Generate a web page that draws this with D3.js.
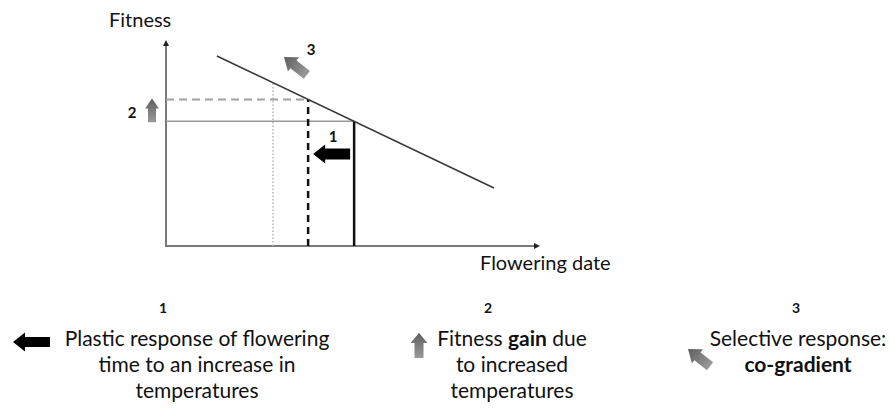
<!DOCTYPE html>
<html>
<head>
<meta charset="utf-8">
<script src="https://cdn.jsdelivr.net/npm/d3@7"></script>
<style>
  html, body { margin: 0; padding: 0; background: #fff; }
  svg { display: block; }
  text { font-family: Lato, "Open Sans", sans-serif; fill: #111; }
</style>
</head>
<body>
<svg id="chart" width="889" height="409"></svg>
<script>
// ---- data (arbitrary 0-100 units) ----
const axisLabels = ["Fitness", "Flowering date"];
const fitnessLineDates = [13.6, 87.7];
const fitnessLineValues = [92.2, 28.2];
const dateNames = ["original", "plastic", "selective"];
const floweringDates = [50.3, 38.0, 28.6];
const fitnessAtDates = [60.5, 71.1, 79.2];
const arrowNumbers = ["1", "2", "3"];
const legendLines = [
  [["Plastic response of flowering"], ["time to an increase in"], ["temperatures"]],
  [["Fitness ", "gain", " due"], ["to increased"], ["temperatures"]],
  [["Selective response:"], ["co-gradient"]]
];
const legendBold = [
  [[false], [false], [false]],
  [[false, true, false], [false], [false]],
  [[false], [true]]
];

const svg = d3.select("#chart");
const defs = svg.append("defs");
const grad = defs.append("linearGradient").attr("id", "grayGrad")
  .attr("x1", 0).attr("y1", 0).attr("x2", 1).attr("y2", 0);
grad.append("stop").attr("offset", "0%").attr("stop-color", "#5e5e5e");
grad.append("stop").attr("offset", "100%").attr("stop-color", "#9a9a9a");

const x = d3.scaleLinear().domain([0, 100]).range([166, 540]);
const y = d3.scaleLinear().domain([0, 100]).range([246, 40]);

// axes
const axisColor = "#7a7a7a";
svg.append("line").attr("x1", x(0)).attr("y1", y(0)).attr("x2", x(0)).attr("y2", y(100) + 4)
  .attr("stroke", axisColor).attr("stroke-width", 2);
svg.append("line").attr("x1", x(0) - 1).attr("y1", y(0)).attr("x2", x(100) - 4).attr("y2", y(0))
  .attr("stroke", axisColor).attr("stroke-width", 2);
svg.append("path")
  .attr("d", `M${x(0)},${y(100)} l-3,6 l6,0 z`).attr("fill", "#222");
svg.append("path")
  .attr("d", `M${x(100)},${y(0)} l-6,-3 l0,6 z`).attr("fill", "#222");

svg.append("text").attr("x", 109).attr("y", 27).attr("font-size", 20).text(axisLabels[0]);
svg.append("text").attr("x", 480).attr("y", 270).attr("font-size", 20).text(axisLabels[1]);

// guide lines
const [dOrig, dPlast, dSel] = floweringDates;
const [fOrig, fPlast, fSel] = fitnessAtDates;

// dotted vertical (selective)
svg.append("line").attr("x1", x(dSel)).attr("x2", x(dSel)).attr("y1", y(0)).attr("y2", y(fSel))
  .attr("stroke", "#b5b5b5").attr("stroke-width", 1.5).attr("stroke-dasharray", "1.5,2");
// solid horizontal (original)
svg.append("line").attr("x1", x(0)).attr("x2", x(dOrig)).attr("y1", y(fOrig)).attr("y2", y(fOrig))
  .attr("stroke", "#9a9a9a").attr("stroke-width", 1.5);
// dashed horizontal (plastic)
svg.append("line").attr("x1", x(0)).attr("x2", x(dPlast)).attr("y1", y(fPlast)).attr("y2", y(fPlast))
  .attr("stroke", "#a0a0a0").attr("stroke-width", 2).attr("stroke-dasharray", "8,5");
// dashed vertical (plastic)
svg.append("line").attr("x1", x(dPlast)).attr("x2", x(dPlast)).attr("y1", y(0)).attr("y2", y(fPlast))
  .attr("stroke", "#111").attr("stroke-width", 2.5).attr("stroke-dasharray", "7,5");
// solid vertical (original)
svg.append("line").attr("x1", x(dOrig)).attr("x2", x(dOrig)).attr("y1", y(0)).attr("y2", y(fOrig))
  .attr("stroke", "#111").attr("stroke-width", 2.5);

// fitness line
svg.append("path")
  .datum(fitnessLineDates.map((d, i) => [d, fitnessLineValues[i]]))
  .attr("d", d3.line().x(d => x(d[0])).y(d => y(d[1])))
  .attr("stroke", "#3a3a3a").attr("stroke-width", 1.6).attr("fill", "none");

// block arrow helper: tip at (tx,ty); angle = direction from tip to tail (deg)
function blockArrow(g, tx, ty, angle, len, headLen, headW, bodyW, fill) {
  const pts = [[0, 0], [headLen, -headW / 2], [headLen, -bodyW / 2], [len, -bodyW / 2],
               [len, bodyW / 2], [headLen, bodyW / 2], [headLen, headW / 2]];
  g.append("path")
    .attr("d", "M" + pts.map(p => p.join(",")).join("L") + "Z")
    .attr("transform", `translate(${tx},${ty}) rotate(${angle})`)
    .attr("fill", fill);
}

const g = svg.append("g");
// arrow 1 (plastic response)
const a1y = y(44.7);
blockArrow(g, x(dPlast) + 5, a1y, 0, x(dOrig) - 4 - (x(dPlast) + 5), 12, 19, 11, "#000");
svg.append("text").attr("x", 333).attr("y", 142).attr("font-size", 15).attr("font-weight", 700)
  .attr("text-anchor", "middle").text(arrowNumbers[0]);
// arrow 2 (fitness gain)
blockArrow(g, 152, y(fPlast) - 1, 90, y(fOrig) - y(fPlast) + 2, 10, 14, 8, "url(#grayGrad)");
svg.append("text").attr("x", 132).attr("y", 118).attr("font-size", 15).attr("font-weight", 700)
  .attr("text-anchor", "middle").text(arrowNumbers[1]);
// arrow 3 (selective)
blockArrow(g, 284, 57, 38, 29, 12, 18, 10, "url(#grayGrad)");
svg.append("text").attr("x", 311).attr("y", 55).attr("font-size", 15).attr("font-weight", 700)
  .attr("text-anchor", "middle").text(arrowNumbers[2]);

// legend
const legCenters = [197, 512, 798];
const numX = [163, 488, 796];
const numY = 313;
const lineY = [346, 372, 398];
legendLines.forEach((lines, i) => {
  svg.append("text").attr("x", numX[i]).attr("y", numY).attr("font-size", 14)
    .attr("font-weight", 700).attr("text-anchor", "middle").text(arrowNumbers[i]);
  lines.forEach((parts, j) => {
    const t = svg.append("text").attr("x", legCenters[i]).attr("y", lineY[j])
      .attr("font-size", 21).attr("text-anchor", "middle");
    parts.forEach((p, k) => {
      t.append("tspan").attr("font-weight", legendBold[i][j][k] ? 700 : 400).text(p);
    });
  });
});
blockArrow(g, 13, 342, 0, 37, 12, 19, 10, "#000");
blockArrow(g, 419, 333, 90, 25, 10, 17, 9, "url(#grayGrad)");
blockArrow(g, 688, 349, 38, 28, 12, 18, 10, "url(#grayGrad)");
</script>
</body>
</html>
